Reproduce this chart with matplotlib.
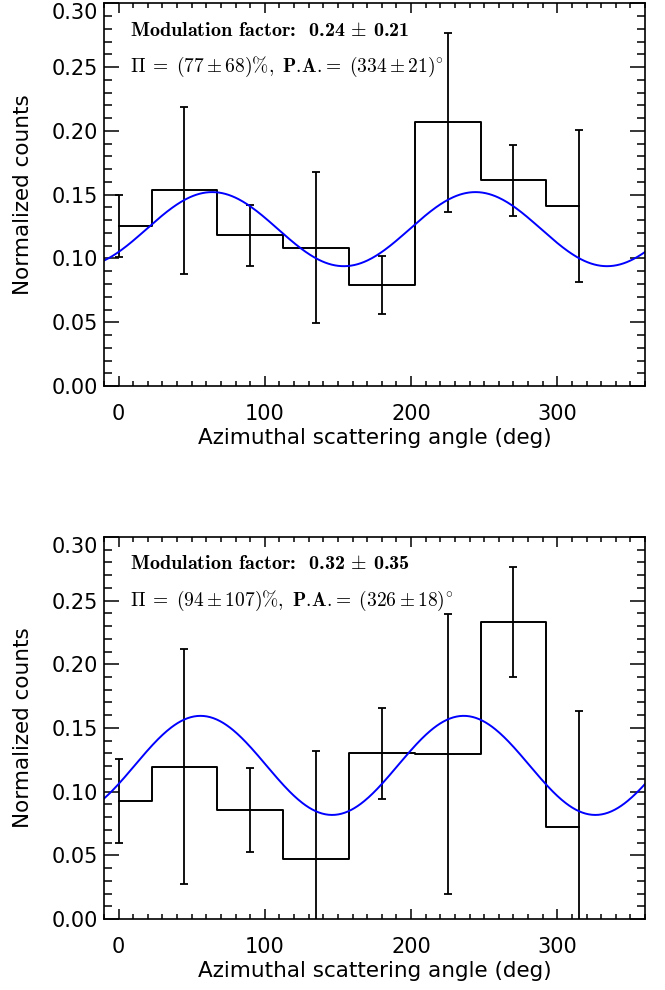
import numpy as np
import matplotlib
matplotlib.use('Agg')
import matplotlib.pyplot as plt
from matplotlib.ticker import MultipleLocator

plt.rcParams['font.family'] = ['DejaVu Sans']
plt.rcParams['mathtext.fontset'] = 'cm'
plt.rcParams['axes.unicode_minus'] = False

# bin centres (deg)
angles = [0, 45, 90, 135, 180, 225, 270, 315]

# panel 1
counts_1 = [0.1255, 0.1535, 0.1182, 0.1085, 0.0795, 0.2068, 0.1613, 0.1412]
errors_1 = [0.024, 0.0654, 0.0239, 0.0592, 0.0228, 0.0702, 0.0279, 0.0595]
mean_1, mod_1, pa_1 = 0.123, 0.236, 334.0
label_1a = r'Modulation factor:  0.24$\,\pm\,$0.21'
label_1b = r'$\Pi\;=\;(77\pm68)\%\mathbf{,\ P.\!A.}\!\mathbf{=}\;(334\pm21)^{\circ}$'

# panel 2
counts_2 = [0.0927, 0.1197, 0.0859, 0.0474, 0.1301, 0.1296, 0.2331, 0.0720]
errors_2 = [0.033, 0.0922, 0.033, 0.0848, 0.0357, 0.110, 0.0432, 0.0914]
mean_2, mod_2, pa_2 = 0.1206, 0.3225, 326.0
label_2a = r'Modulation factor:  0.32$\,\pm\,$0.35'
label_2b = r'$\Pi\;=\;(94\pm107)\%\mathbf{,\ P.\!A.}\!\mathbf{=}\;(326\pm18)^{\circ}$'


def draw_panel(ax, counts, errors, mean, mod, pa, txt_a, txt_b):
    ax.step(angles, counts, where='mid', color='black', lw=1.4)
    ax.errorbar(angles, counts, yerr=errors, fmt='none', ecolor='black',
                elinewidth=1.3, capsize=3, capthick=1.3)
    phi = np.linspace(-10, 360, 500)
    model = mean * (1 - mod * np.cos(np.radians(2 * (phi - pa))))
    ax.plot(phi, model, color='#0000ff', lw=1.4)

    ax.set_xlim(-10, 360)
    ax.set_ylim(0, 0.30)
    ax.xaxis.set_major_locator(MultipleLocator(100))
    ax.xaxis.set_minor_locator(MultipleLocator(10))
    ax.yaxis.set_major_locator(MultipleLocator(0.05))
    ax.yaxis.set_minor_locator(MultipleLocator(0.01))
    ax.yaxis.set_major_formatter(plt.FormatStrFormatter('%.2f'))
    ax.tick_params(axis='both', which='both', direction='in', top=True, right=True,
                   width=1.1, labelsize=15)
    ax.tick_params(axis='x', which='major', length=7, pad=13)
    ax.tick_params(axis='x', which='minor', length=3.5)
    ax.tick_params(axis='y', which='major', length=11, pad=4)
    ax.tick_params(axis='y', which='minor', length=6)
    for s in ax.spines.values():
        s.set_linewidth(1.2)
    ax.set_xlabel('Azimuthal scattering angle (deg)', fontsize=15.5, labelpad=3)
    ax.set_ylabel('Normalized counts', fontsize=15.5, labelpad=14)
    ax.text(7.5, 0.2785, txt_a, fontsize=14.5, va='center', ha='left', family='cmb10')
    ax.text(7.5, 0.250, txt_b, fontsize=14, va='center', ha='left')


fig = plt.figure(figsize=(6.65, 9.9), dpi=100)
ax1 = fig.add_axes([0.1564, 0.610, 0.8136, 0.3867])
ax2 = fig.add_axes([0.1564, 0.0717, 0.8136, 0.386])

draw_panel(ax1, counts_1, errors_1, mean_1, mod_1, pa_1, label_1a, label_1b)
draw_panel(ax2, counts_2, errors_2, mean_2, mod_2, pa_2, label_2a, label_2b)

fig.canvas.draw()
for ax in (ax1, ax2):
    for lab in ax.get_yticklabels():
        if lab.get_text() == '0.30':
            lab.set_verticalalignment('top')

plt.savefig('out.png', dpi=100)
